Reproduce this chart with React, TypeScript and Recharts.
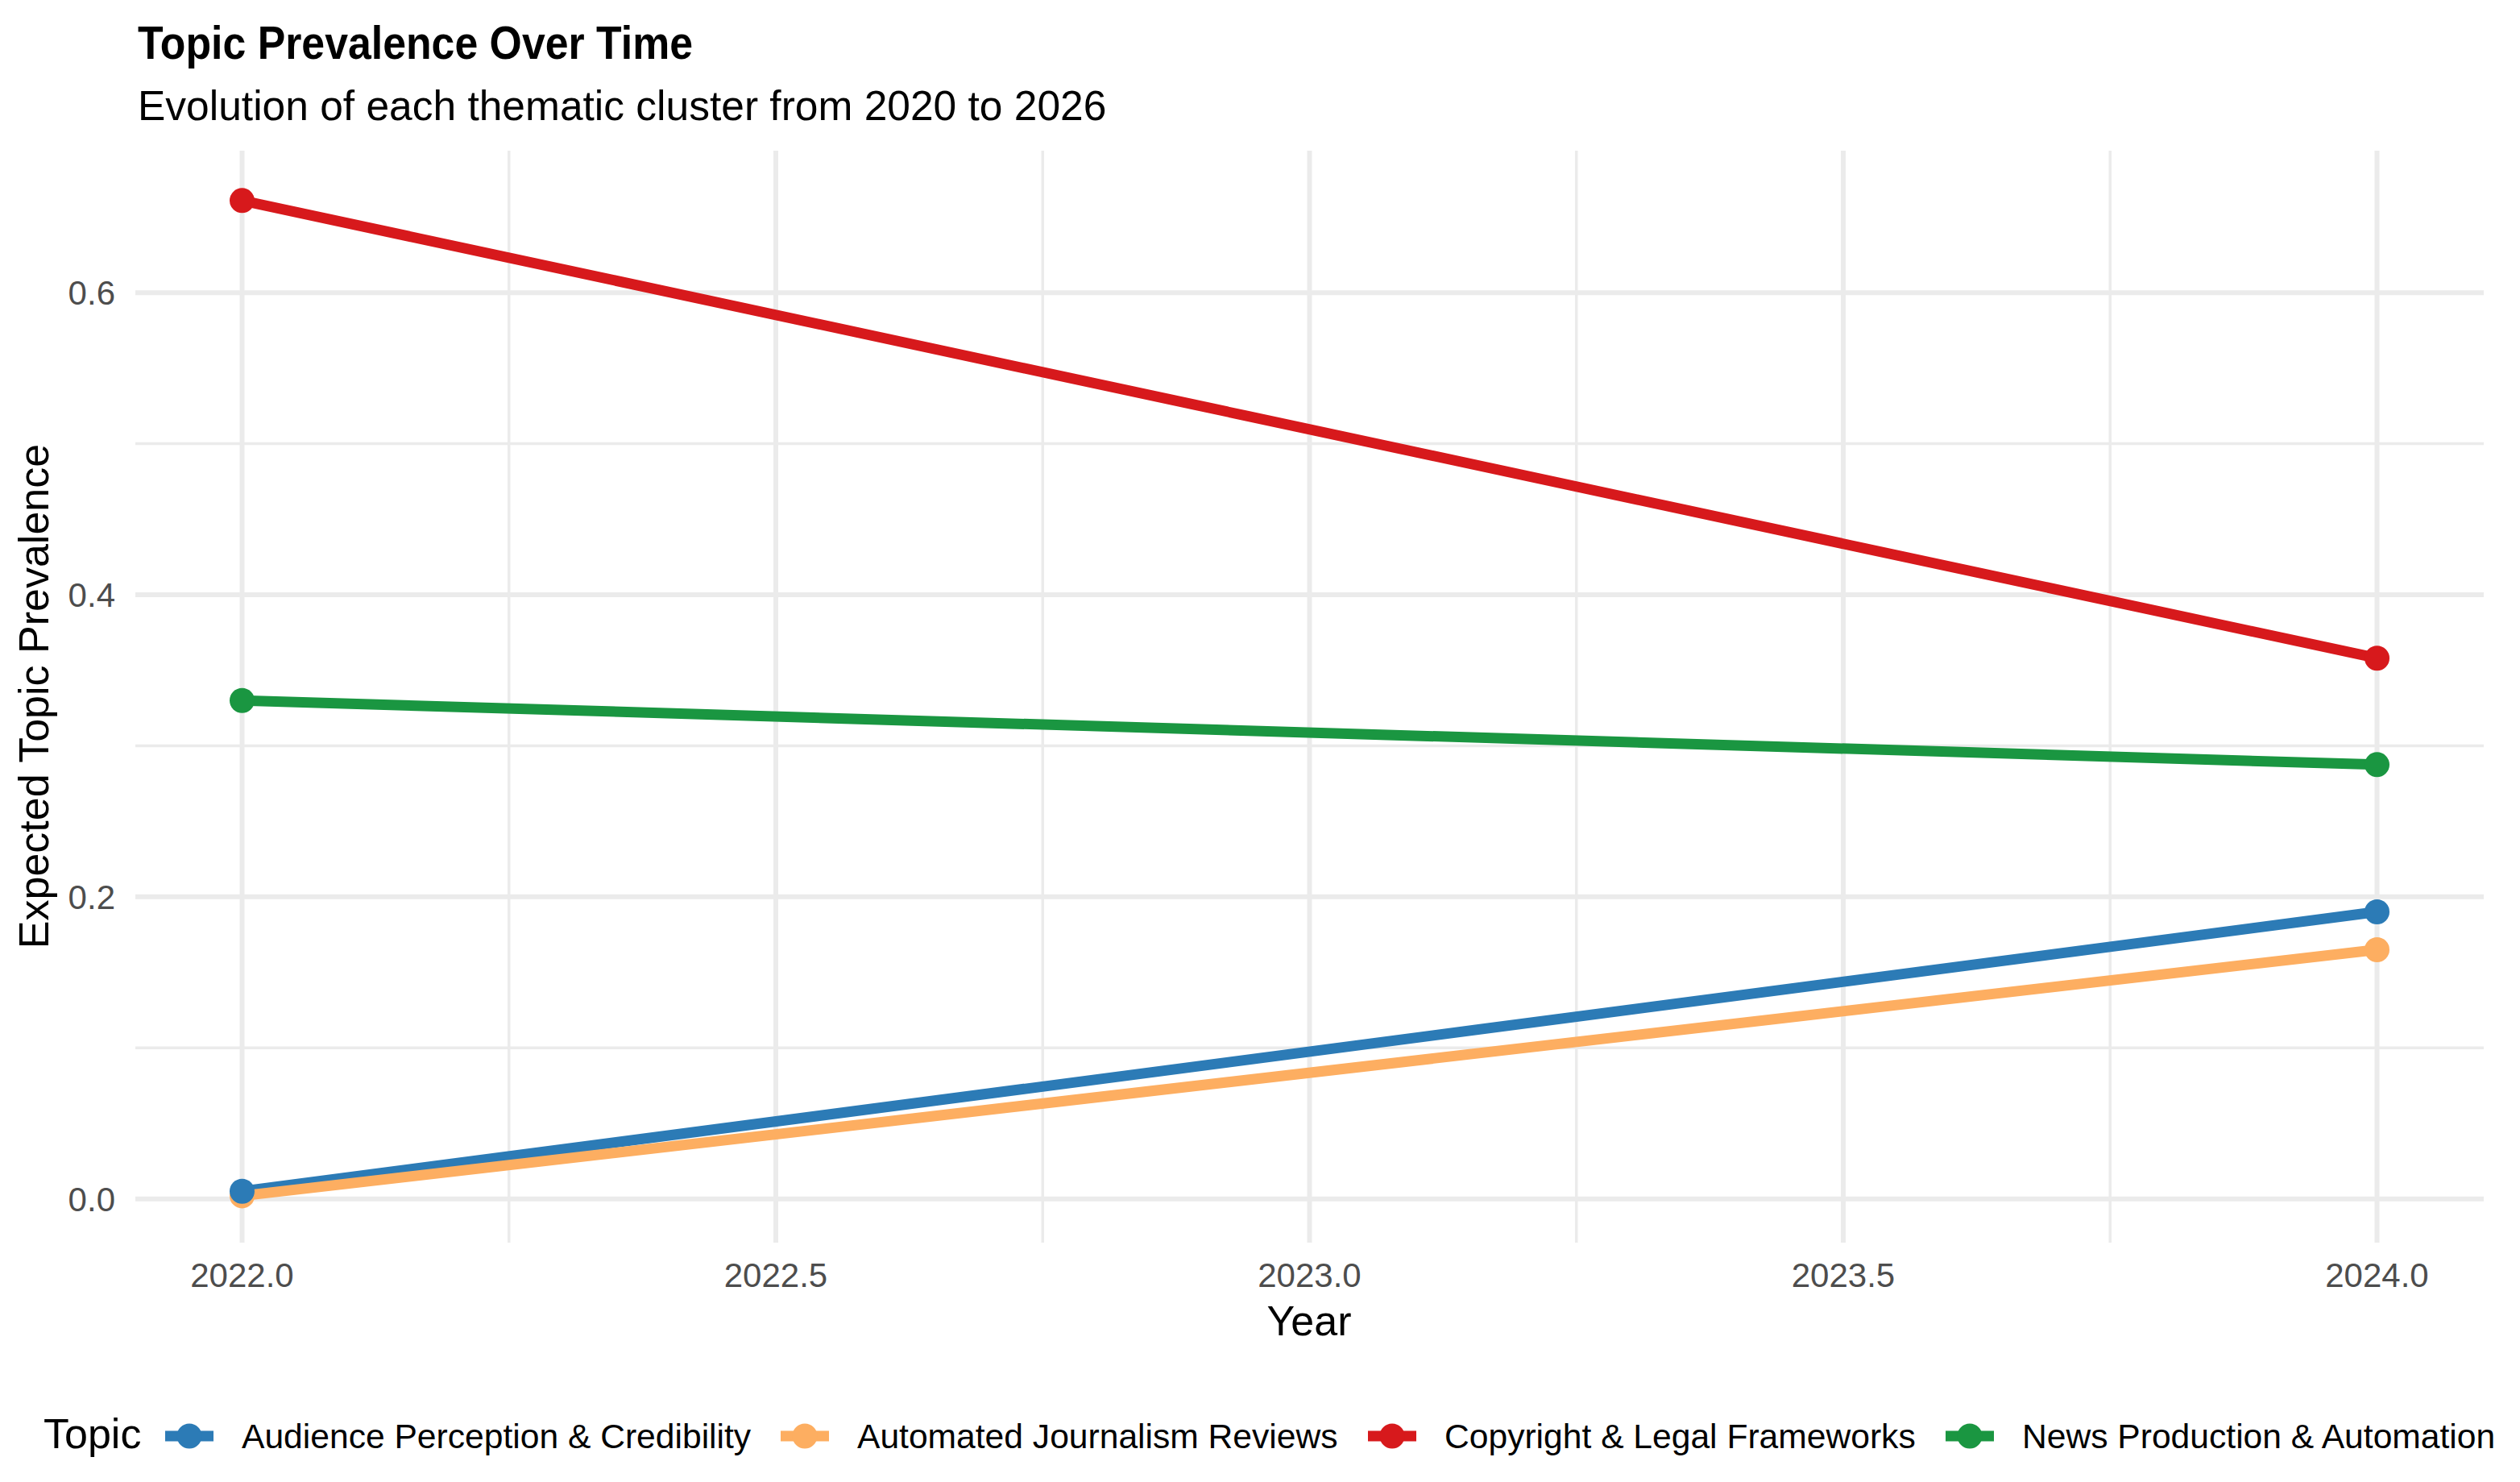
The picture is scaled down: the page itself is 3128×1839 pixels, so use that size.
import React from 'react';
import { ComposedChart, Line, XAxis, YAxis, ReferenceLine } from 'recharts';

// Values
const years = [2022, 2024];
const audience = [0.005, 0.19];
const automated = [0.002, 0.165];
const copyright = [0.661, 0.358];
const news = [0.33, 0.2875];

const topicNames = [
    'Audience Perception & Credibility',
    'Automated Journalism Reviews',
    'Copyright & Legal Frameworks',
    'News Production & Automation',
];
const topicKeys = ['audience', 'automated', 'copyright', 'news'];
const topicColors = ['#2c7bb6', '#fdae61', '#d7191c', '#1a9641'];

const xTicks = [2022, 2022.5, 2023, 2023.5, 2024];
const xMinor = [2022.25, 2022.75, 2023.25, 2023.75];
const yTicks = [0, 0.2, 0.4, 0.6];
const yMinor = [0.1, 0.3, 0.5];

const W = 3128;
const H = 1839;
const FONT = '"Liberation Sans", Arial, Helvetica, sans-serif';
const GRID = '#ebebeb';

const legendKeyX = [205, 969, 1698, 2415];

const data = years.map((year, i) => ({
    year,
    audience: audience[i],
    automated: automated[i],
    copyright: copyright[i],
    news: news[i],
}));

// ggplot draws all lines first, then points on top
const lineOrder = [0, 1, 2, 3];
const dotOrder = [1, 0, 2, 3];

function Overlay() {
    return (
        <svg
            width={W}
            height={H}
            style={{ position: 'absolute', left: 0, top: 0, pointerEvents: 'none' }}
            fontFamily={FONT}
        >
            <text
                x={171}
                y={73}
                fontSize={58}
                fontWeight="bold"
                fill="#000"
                textLength={689}
                lengthAdjust="spacingAndGlyphs"
            >
                Topic Prevalence Over Time
            </text>
            <text x={171} y={149} fontSize={51.5} fill="#000">
                Evolution of each thematic cluster from 2020 to 2026
            </text>
            <text x={1625} y={1657} fontSize={52} fill="#000" textAnchor="middle">
                Year
            </text>
            <text
                x={0}
                y={0}
                fontSize={52}
                fill="#000"
                textAnchor="middle"
                transform="translate(60, 864) rotate(-90)"
            >
                Expected Topic Prevalence
            </text>
            <text x={54} y={1797} fontSize={52} fill="#000">
                Topic
            </text>
            {topicNames.map((name, i) => (
                <g key={name}>
                    <line
                        x1={legendKeyX[i]}
                        x2={legendKeyX[i] + 60}
                        y1={1782}
                        y2={1782}
                        stroke={topicColors[i]}
                        strokeWidth={13}
                    />
                    <circle cx={legendKeyX[i] + 30} cy={1782} r={15.5} fill={topicColors[i]} />
                    <text x={legendKeyX[i] + 95} y={1797} fontSize={42.6} fill="#000">
                        {name}
                    </text>
                </g>
            ))}
        </svg>
    );
}

export default function App() {
    return (
        <div style={{ position: 'absolute', left: 0, top: 0, width: W, height: H, background: '#fff' }}>
            <ComposedChart
                width={W}
                height={H}
                data={data}
                margin={{ top: 187, right: 45, bottom: 0, left: 48 }}
            >
                {yMinor.map((v) => (
                    <ReferenceLine key={`ym-${v}`} y={v} stroke={GRID} strokeWidth={3.5} />
                ))}
                {xMinor.map((v) => (
                    <ReferenceLine key={`xm-${v}`} x={v} stroke={GRID} strokeWidth={3.5} />
                ))}
                {yTicks.map((v) => (
                    <ReferenceLine key={`y-${v}`} y={v} stroke={GRID} strokeWidth={6} />
                ))}
                {xTicks.map((v) => (
                    <ReferenceLine key={`x-${v}`} x={v} stroke={GRID} strokeWidth={6} />
                ))}
                <XAxis
                    dataKey="year"
                    type="number"
                    domain={[2021.9, 2024.1]}
                    ticks={xTicks}
                    allowDataOverflow
                    tickFormatter={(v) => Number(v).toFixed(1)}
                    axisLine={false}
                    tickLine={false}
                    tickSize={0}
                    tickMargin={25}
                    height={297}
                    tick={{ fontSize: 42, fill: '#4d4d4d', fontFamily: FONT }}
                />
                <YAxis
                    type="number"
                    domain={[-0.029, 0.694]}
                    ticks={yTicks}
                    allowDataOverflow
                    tickFormatter={(v) => Number(v).toFixed(1)}
                    axisLine={false}
                    tickLine={false}
                    tickSize={0}
                    tickMargin={25}
                    width={120}
                    tick={{ fontSize: 42, fill: '#4d4d4d', fontFamily: FONT }}
                />
                {lineOrder.map((i) => (
                    <Line
                        key={`line-${topicKeys[i]}`}
                        dataKey={topicKeys[i]}
                        stroke={topicColors[i]}
                        strokeWidth={13}
                        dot={false}
                        activeDot={false}
                        isAnimationActive={false}
                        legendType="none"
                    />
                ))}
                {dotOrder.map((i) => (
                    <Line
                        key={`dot-${topicKeys[i]}`}
                        dataKey={topicKeys[i]}
                        stroke="none"
                        strokeWidth={0}
                        dot={{ r: 15.5, fill: topicColors[i], stroke: 'none' }}
                        activeDot={false}
                        isAnimationActive={false}
                        legendType="none"
                    />
                ))}
            </ComposedChart>
            <Overlay />
        </div>
    );
}
